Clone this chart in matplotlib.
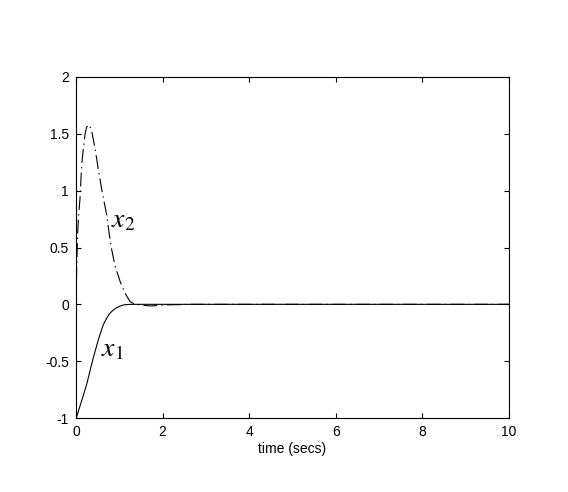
"""Step response of the two states, x1 and x2, over ten seconds."""

import matplotlib

matplotlib.use("Agg")
import matplotlib.pyplot as plt
from matplotlib.ticker import FormatStrFormatter

# state x1 (solid)
T_X1 = [0.0, 0.015, 0.08, 0.17, 0.25, 0.32, 0.40, 0.48, 0.55, 0.63, 0.71, 0.78,
        0.86, 0.94, 1.02, 1.09, 1.17, 1.25, 1.5, 2.0, 4.0, 6.0, 8.0, 10.0]
X1 = [-1.0, -0.99, -0.91, -0.80, -0.70, -0.59, -0.47, -0.36, -0.27, -0.18, -0.12, -0.08,
      -0.05, -0.03, -0.015, -0.006, -0.002, 0.0, 0.0, 0.0, 0.0, 0.0, 0.0, 0.0]

# state x2 (dash-dot)
T_X2 = [0.0, 0.008, 0.015, 0.035, 0.06, 0.092, 0.13, 0.17, 0.21, 0.246, 0.30, 0.36,
        0.44, 0.51, 0.59, 0.65, 0.71, 0.76, 0.82, 0.90, 1.02, 1.13, 1.25, 1.36,
        1.48, 1.64, 1.74, 1.82, 1.95, 2.1, 2.3, 2.45, 2.6, 4.0, 6.0, 8.0, 10.0]
X2 = [0.0, 0.15, 0.30, 0.60, 0.78, 0.93, 1.22, 1.37, 1.50, 1.56, 1.58, 1.53,
      1.37, 1.20, 1.02, 0.90, 0.785, 0.64, 0.49, 0.34, 0.20, 0.10, 0.023, 0.003,
      -0.006, -0.012, -0.014, -0.012, -0.008, -0.005, -0.003, -0.002, 0.0, 0.0, 0.0, 0.0, 0.0]

X_TICKS = [0, 2, 4, 6, 8, 10]
Y_TICKS = [-1, -0.5, 0, 0.5, 1, 1.5, 2]
X_LABEL = "time (secs)"
LABELS = [("$x_1$", 0.58, -0.40), ("$x_2$", 0.80, 0.74)]


def main() -> int:
    plt.rcParams["font.family"] = ["Liberation Sans", "DejaVu Sans"]
    plt.rcParams["axes.unicode_minus"] = False
    plt.rcParams["mathtext.fontset"] = "stix"
    plt.rcParams["lines.scale_dashes"] = False

    fig = plt.figure(figsize=(5.68, 4.92), dpi=100)
    ax = fig.add_axes([76 / 568, 74 / 492, 433 / 568, 341 / 492])

    ax.plot(T_X1, X1, color="black", lw=0.8, ls="-")
    ax.plot(T_X2, X2, color="black", lw=0.8, ls=(0, (10, 3, 1, 3)))

    for text, tx, ty in LABELS:
        ax.text(tx, ty, text, fontsize=20, va="center", ha="left")

    ax.set_xlim(0, 10)
    ax.set_ylim(-1, 2)
    ax.set_xticks(X_TICKS)
    ax.set_yticks(Y_TICKS)
    ax.yaxis.set_major_formatter(FormatStrFormatter("%g"))
    ax.xaxis.set_major_formatter(FormatStrFormatter("%g"))
    ax.tick_params(direction="in", length=3.5, width=0.8, top=True, right=True,
                   labelsize=10, pad=5)
    for spine in ax.spines.values():
        spine.set_linewidth(0.8)
    ax.set_xlabel(X_LABEL, fontsize=10, labelpad=2)

    fig.savefig("out.png", dpi=100)
    plt.close(fig)
    return 0


if __name__ == "__main__":
    raise SystemExit(main())
